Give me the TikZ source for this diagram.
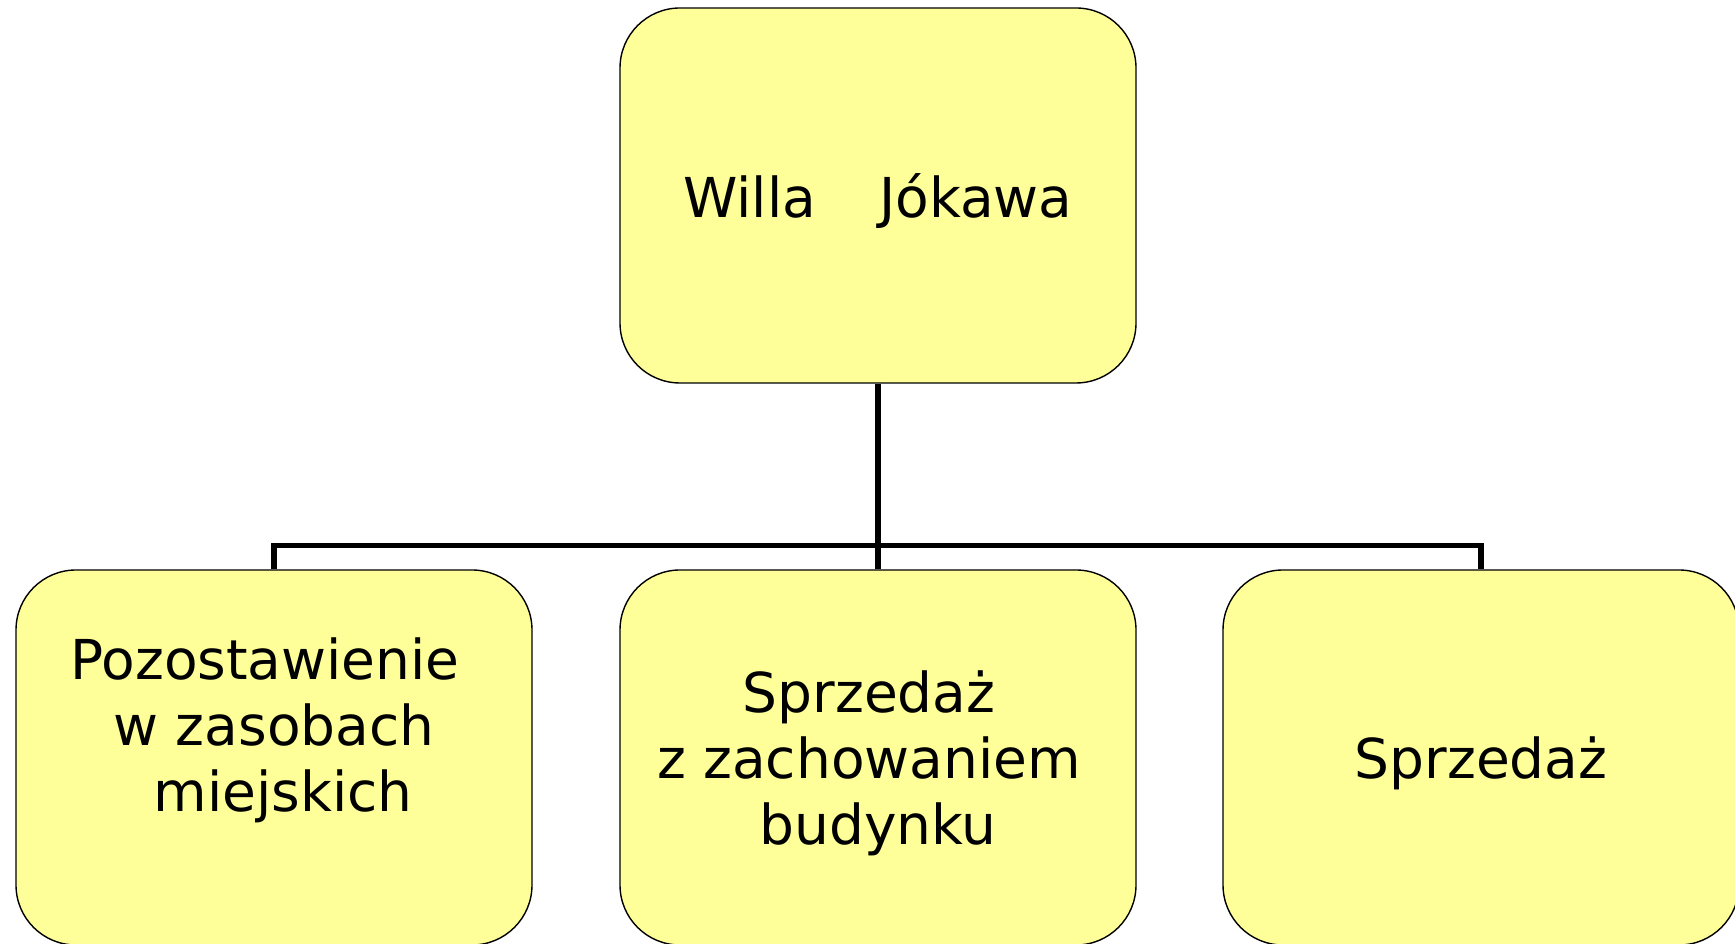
\documentclass[tikz,border=0pt]{standalone}
\usepackage{fontspec}
\setmainfont{DejaVu Sans}
\newcommand{\padsp}{\mbox{\hspace{18pt}}}
\begin{document}
\begin{tikzpicture}[x=1pt,y=1pt,
  box/.style={draw=black, line width=1.4pt, fill=boxfill, rounded corners=60pt,
    minimum width=516pt, minimum height=375pt, inner sep=0pt},
  txt/.style={align=center, inner sep=0pt, yshift=-6pt,
    font=\fontsize{55}{66}\selectfont},
  link/.style={draw=black, line width=5.5pt, line join=miter}]
\definecolor{boxfill}{HTML}{FFFF99}
\useasboundingbox (0,0) rectangle (1735,944);
\node[box] (top) at (878,748.5) {};
\node[box] (left) at (274,186.5) {};
\node[box] (mid) at (878,186.5) {};
\node[box] (right) at (1481,186.5) {};
\node[txt] (topt) at (top.center) {Willa\hspace{1.15em}Jókawa};
\node[txt, yshift=6pt] (leftt) at (left.center) {Pozostawienie\padsp\\w zasobach\\\padsp miejskich\\\mbox{}};
\node[txt] (midt) at (mid.center) {Sprzedaż\padsp\\z zachowaniem\padsp\\budynku};
\node[txt] (rightt) at (right.center) {Sprzedaż};
\coordinate (bar) at (878,398.5);
\draw[link] (top.south) -- (mid.north);
\draw[link] (left.north) -- (left.north |- bar) -- (right.north |- bar) -- (right.north);
\end{tikzpicture}
\end{document}
